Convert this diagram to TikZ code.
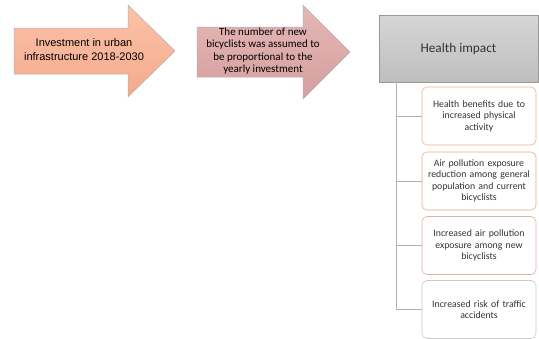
\documentclass[tikz,border=0pt]{standalone}
\usepackage{fontspec}
\setmainfont{Carlito}
\newfontfamily\arialfont{Liberation Sans}
\usetikzlibrary{positioning}

\definecolor{peachtop}{HTML}{FBC3A9}
\definecolor{peachbot}{HTML}{F5A98B}
\definecolor{rosetop}{HTML}{E4B7B6}
\definecolor{rosebot}{HTML}{D59F9E}
\definecolor{greytop}{HTML}{D6D6D6}
\definecolor{greybot}{HTML}{BEBEBE}
\definecolor{edgeA}{HTML}{F4B183}
\definecolor{edgeB}{HTML}{EFA48C}
\definecolor{edgeC}{HTML}{E6AE9E}
\definecolor{edgeD}{HTML}{C9C9C9}

\tikzset{
  bigarrow/.style={draw=gray!60, line width=0.5pt},
  effect/.style={draw, rounded corners=5pt, line width=0.6pt, fill=white,
    minimum width=114pt, minimum height=58pt, inner sep=2pt,
    text width=108pt, align=center, font=\fontsize{9.8}{11.5}\selectfont, text=black!80},
  link/.style={draw=gray!60, line width=0.6pt}
}

\begin{document}
\begin{tikzpicture}[x=1pt, y=-1pt]
\useasboundingbox (0,0) rectangle (539,338);

% arrows
\shade[bigarrow, top color=peachtop, bottom color=peachbot]
  (14,28) -- (128,28) -- (128,5) -- (175,51) -- (128,97) -- (128,74) -- (14,74) -- cycle;
\node[align=center, font=\arialfont\fontsize{11}{14}\selectfont] (invest) at (84,50)
  {Investment in urban\\infrastructure 2018-2030};

\shade[bigarrow, top color=rosetop, bottom color=rosebot]
  (197,27) -- (303,27) -- (303,5) -- (350,52) -- (303,99) -- (303,77) -- (197,77) -- cycle;
\node[align=center, font=\fontsize{11}{12.3}\selectfont] (assume) at (263,51)
  {The number of new\\bicyclists was assumed to\\be proportional to the\\yearly investment};

% health impact
\node[draw=gray!80, top color=greytop, bottom color=greybot, minimum width=159pt,
  minimum height=67pt, font=\fontsize{13.3}{15}\selectfont, text=black!80] (health) at (458.5,48.5) {Health impact};
\coordinate (trunk) at (396,82);

\node[effect, draw=edgeA] (ben) at (479,116) {Health benefits due to\\increased physical\\activity};
\node[effect, draw=edgeB] (red) at (479,181) {Air pollution exposure\\reduction among general\\population and current\\bicyclists};
\node[effect, draw=edgeC] (exp) at (479,245.5) {Increased air pollution\\exposure among new\\bicyclists};
\node[effect, draw=edgeD] (acc) at (479,309.5) {Increased risk of traffic\\accidents};

\draw[link] (trunk) |- (ben.west);
\draw[link] (trunk) |- (red.west);
\draw[link] (trunk) |- (exp.west);
\draw[link] (trunk) |- (acc.west);
\end{tikzpicture}
\end{document}
